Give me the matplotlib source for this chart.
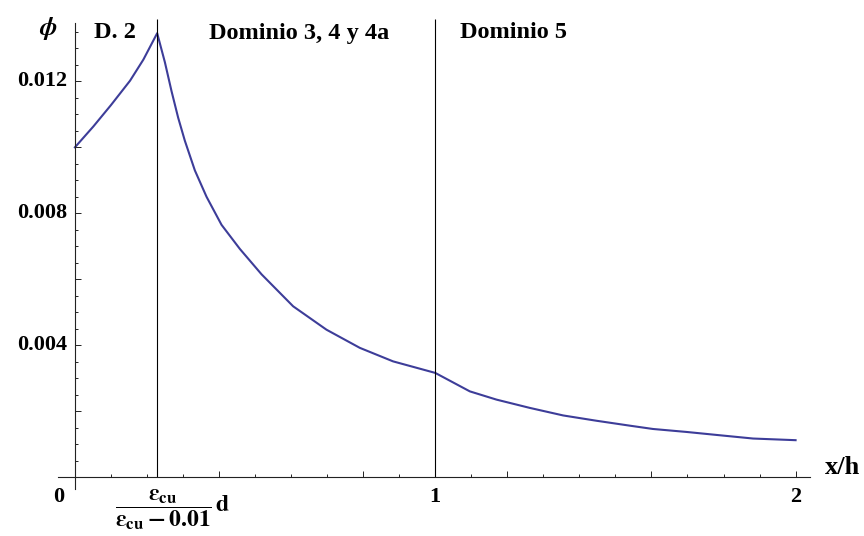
import numpy as np
import matplotlib
matplotlib.use('Agg')
import matplotlib.pyplot as plt
from matplotlib.transforms import blended_transform_factory

plt.rcParams['font.family'] = 'Liberation Serif'
plt.rcParams['font.weight'] = 'bold'
plt.rcParams['mathtext.fontset'] = 'stix'

# curvature phi against neutral axis depth x/h
xh = [0.0, 0.051, 0.10, 0.153, 0.19, 0.2283,
      0.2497, 0.2682, 0.2865, 0.3051, 0.3329, 0.3653, 0.4069, 0.4577,
      0.5179, 0.6056, 0.6982, 0.7906, 0.8829, 1.0,
      1.096, 1.170, 1.262, 1.355, 1.447, 1.540, 1.604, 1.697, 1.789,
      1.882, 2.0]
phi = [0.01000, 0.01063, 0.01128, 0.01202, 0.01266, 0.01346,
       0.01258, 0.01170, 0.01090, 0.01020, 0.00930, 0.00850, 0.00765,
       0.00692, 0.00615, 0.00518, 0.00447, 0.00392, 0.00351, 0.00316,
       0.00260, 0.00235, 0.00210, 0.00187, 0.00171, 0.00156, 0.00146,
       0.00137, 0.00127, 0.00117, 0.00112]

x_lim2 = 0.2283   # limit between domain 2 and 3
domain_lines = [x_lim2, 1.0]
y_labels = [0.004, 0.008, 0.012]
domain_names = ['D. 2', 'Dominio 3, 4 y 4a', 'Dominio 5']
domain_pos = [0.111, 0.621, 1.218]

fig = plt.figure(figsize=(8.64, 5.36), dpi=100)
ax = fig.add_axes([0.0671, 0.0877, 0.8704, 0.8694])

ax.plot(xh, phi, color='#3d3d99', lw=1.5, solid_joinstyle='round')

ax.vlines(domain_lines, 0, 0.01388, color='black', lw=0.8, clip_on=False)

ax.set_xlim(-0.047, 2.04)
ax.set_ylim(-0.00036, 0.01377)

for s in ['top', 'right']:
    ax.spines[s].set_visible(False)
ax.spines['left'].set_position(('data', 0))
ax.spines['bottom'].set_position(('data', 0))
for s in ['left', 'bottom']:
    ax.spines[s].set_linewidth(0.8)
    ax.spines[s].set_color('#222222')

# x ticks: short every 0.1, longer every 0.4
ax.set_xticks(np.arange(0.1, 2.05, 0.1), minor=True)
ax.set_xticks([0.4, 0.8, 1.2, 1.6, 2.0])
ax.set_xticklabels([])
# y ticks: short every 0.0005, longer every 0.002
ax.set_yticks(np.arange(0.0005, 0.01376, 0.0005), minor=True)
ax.set_yticks([0.002, 0.004, 0.006, 0.008, 0.010, 0.012])
ax.set_yticklabels([])
ax.tick_params(which='both', direction='in', color='#222222', width=0.7)
ax.tick_params(which='major', length=4)
ax.tick_params(which='minor', length=2.5)

for v in y_labels:
    ax.text(-0.022, v, f'{v:.3f}', ha='right', va='center', fontsize=16,
            fontweight='bold')

for v, lab in [(-0.044, '0'), (1.0, '1'), (2.0, '2')]:
    ax.text(v, -0.00030, lab, ha='center', va='top', fontsize=16,
            fontweight='bold')

ax.text(0.272, -0.00098,
        r'$\mathbf{\dfrac{\boldsymbol{\varepsilon}_{cu}}{\boldsymbol{\varepsilon}_{cu}-0.01}\,d}$',
        ha='center', va='center', fontsize=17)

trans = blended_transform_factory(ax.transData, fig.transFigure)
for name, xp in zip(domain_names, domain_pos):
    ax.text(xp, 1 - 33 / 536, name, transform=trans, ha='center',
            va='center', fontsize=17.5, fontweight='bold')

fig.text(48 / 864, 1 - 28 / 536, r'$\boldsymbol{\phi}$', ha='center',
         va='center', fontsize=19)
fig.text(843 / 864, 1 - 468 / 536, 'x/h', ha='center', va='center',
         fontsize=19, fontweight='bold')

fig.savefig('out.png', dpi=100)
